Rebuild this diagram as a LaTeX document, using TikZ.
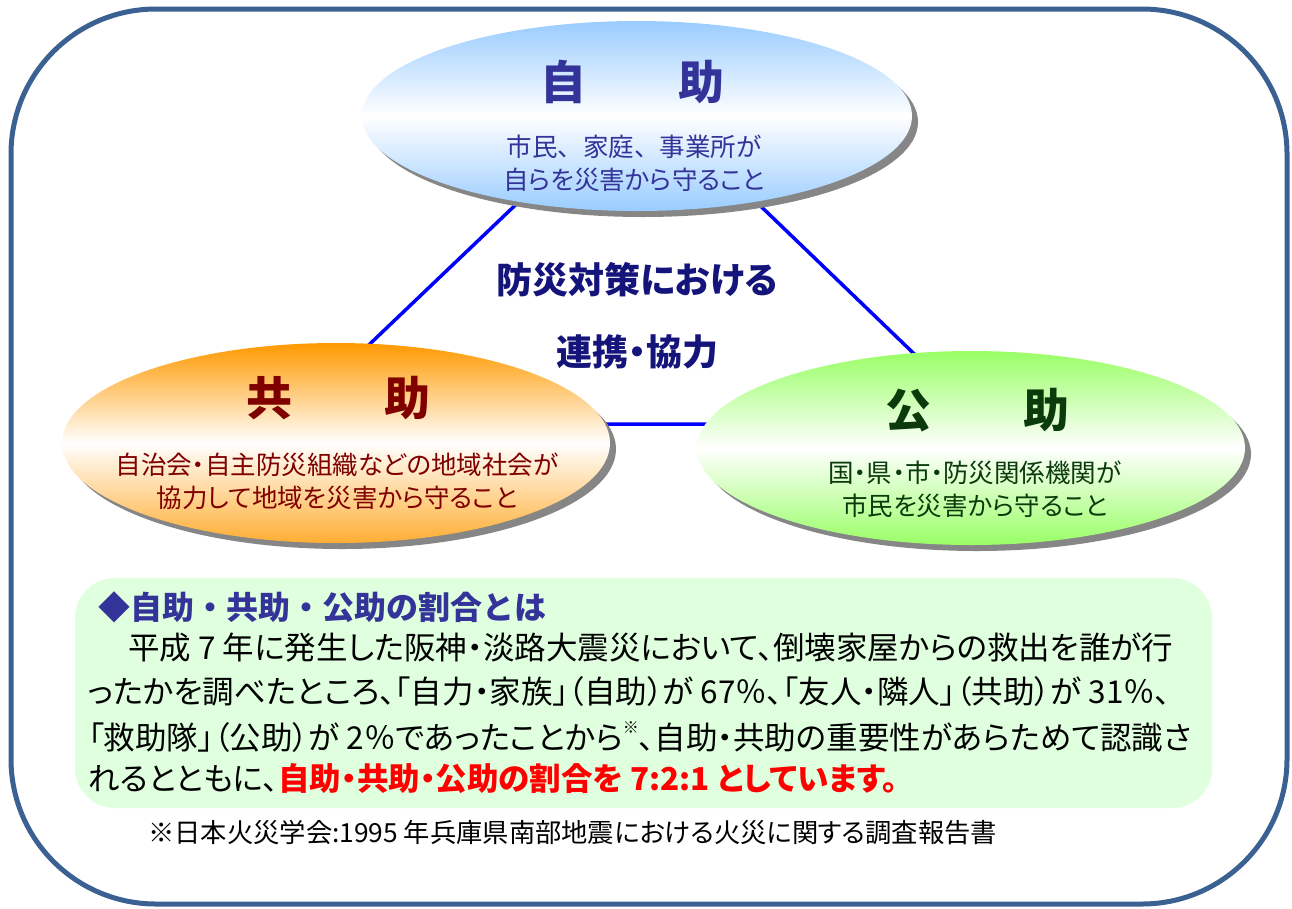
\documentclass[tikz,border=0pt]{standalone}
\usepackage{fontspec}
\setmainfont{Noto Sans CJK JP}[RawFeature=+palt]
\newfontfamily\fullw{Noto Sans CJK JP}
\usetikzlibrary{shapes.geometric,shadows}

\definecolor{framecol}{HTML}{3B6192}
\definecolor{linkcol}{HTML}{0000FF}
\definecolor{jijocol}{HTML}{333399}
\definecolor{kyojocol}{HTML}{800000}
\definecolor{kojocol}{HTML}{0B3A0B}
\definecolor{midcol}{HTML}{14147A}
\definecolor{jijofill}{HTML}{99CCFF}
\definecolor{kyojofill}{HTML}{FF9900}
\definecolor{kojofill}{HTML}{99FF66}
\definecolor{notefill}{HTML}{DFFFDF}
\definecolor{redtxt}{HTML}{FF0000}

\tikzset{
  outerframe/.style={draw=framecol, line width=5pt, rounded corners=145pt},
  link/.style={draw=linkcol, line width=3.5pt},
  bubble/.style={ellipse, inner sep=0pt,
    drop shadow={shadow xshift=6pt, shadow yshift=-6pt, fill=gray!95, opacity=1}},
  ttl/.style={font=\bfseries\fontsize{46}{46}\selectfont, inner sep=0pt},
  sub/.style={font=\fontsize{25.5}{33}\selectfont, align=center, inner sep=0pt},
  midtxt/.style={font=\bfseries\fontsize{36}{36}\selectfont, text=midcol, inner sep=0pt},
  notebox/.style={fill=notefill, rounded corners=40pt},
  bodyline/.style={anchor=west, inner sep=0pt, font=\fontsize{31.5}{31.5}\selectfont},
}

\begin{document}
\begin{tikzpicture}[x=1pt,y=-1pt]
    \useasboundingbox (0,0) rectangle (1292,908);
    \draw[outerframe] (11,9) rectangle (1287,904);
    % triangle behind the bubbles
    \coordinate (apex) at (638,88);
    \coordinate (lft) at (286,424);
    \coordinate (rgt) at (987,424);
    \draw[link] (apex) -- (lft) -- (rgt) -- cycle;
    % three bubbles
    \node[bubble, top color=jijofill, bottom color=jijofill, middle color=white,
      minimum width=550, minimum height=190] (jijo) at (637,116) {};
    \node[bubble, top color=kyojofill, bottom color=kyojofill!80, middle color=white,
      minimum width=548, minimum height=200] (kyojo) at (336,443) {};
    \node[bubble, top color=kojofill, bottom color=kojofill, middle color=white,
      minimum width=548, minimum height=194] (kojo) at (971,448) {};
    \node[ttl, text=jijocol] (jijottl) at (632,82) {自　　助};
    \node[sub, text=jijocol] (jijosub) at (634,163) {{\fullw 市民、家庭、事業所が}\\自らを災害から守ること};
    \node[ttl, text=kyojocol] (kyojottl) at (338,398) {共　　助};
    \node[sub, text=kyojocol] (kyojosub) at (337,481) {自治会・自主防災組織などの地域社会が\\協力して地域を災害から守ること};
    \node[ttl, text=kojocol] (kojottl) at (977,410) {公　　助};
    \node[sub, text=kojocol] (kojosub) at (975,489) {国・県・市・防災関係機関が\\市民を災害から守ること};
    % centre text
    \node[midtxt] (bousai) at (637,280) {防災対策における};
    \node[midtxt] (renkei) at (637,352) {連携・協力};
    % note box
    \fill[notebox] (75,578) rectangle (1212,808);
    \node[anchor=west, inner sep=0pt, text=jijocol, font=\fullw\bfseries\fontsize{32}{32}\selectfont]
      (head) at (98,607) {◆自助・共助・公助の割合とは};
    \node[bodyline] (l1) at (128,648) {平成 7 年に発生した阪神・淡路大震災において、倒壊家屋からの救出を誰が行};
    \node[bodyline] (l2) at (88,692) {ったかを調べたところ、「自力・家族」（自助）が 67％、「友人・隣人」（共助）が 31％、};
    \node[bodyline] (l3) at (88,737) {「救助隊」（公助）が 2％であったことから\raisebox{0.5em}{\fontsize{16}{16}\selectfont ※}、自助・共助の重要性があらためて認識さ};
    \node[bodyline] (l4) at (88,779) {れるとともに、\textcolor{redtxt}{\bfseries 自助・共助・公助の割合を 7:2:1 としています。}};
    \node[anchor=west, inner sep=0pt, font=\fontsize{26.3}{26.3}\selectfont]
      (foot) at (148,833) {※日本火災学会:1995 年兵庫県南部地震における火災に関する調査報告書};
\end{tikzpicture}
\end{document}
